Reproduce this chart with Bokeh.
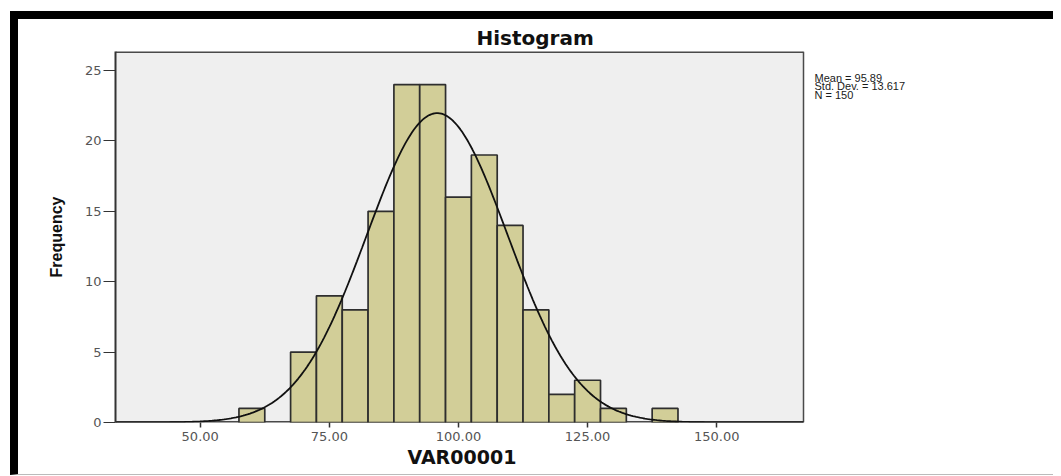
import numpy as np
from bokeh.plotting import figure
from bokeh.models import ColumnDataSource, FixedTicker, Label, Title
from bokeh.layouts import row
from bokeh.embed import file_html
from bokeh.resources import INLINE

# ---- data ----
bin_left = [57.5, 62.5, 67.5, 72.5, 77.5, 82.5, 87.5, 92.5, 97.5, 102.5, 107.5, 112.5, 117.5, 122.5, 127.5, 132.5, 137.5]
bin_right = [62.5, 67.5, 72.5, 77.5, 82.5, 87.5, 92.5, 97.5, 102.5, 107.5, 112.5, 117.5, 122.5, 127.5, 132.5, 137.5, 142.5]
counts = [1, 0, 5, 9, 8, 15, 24, 24, 16, 19, 14, 8, 2, 3, 1, 0, 1]
x_ticks = [50, 75, 100, 125, 150]
x_tick_labels = ["50.00", "75.00", "100.00", "125.00", "150.00"]
y_ticks = [0, 5, 10, 15, 20, 25]
MEAN = 95.89
SD = 13.617
N = 150
stats_lines = ["Mean = 95.89", "Std. Dev. = 13.617", "N = 150"]
X_MIN, X_MAX = 33.6, 166.8
Y_MAX = 26.35

# ---- layout (pixels) ----
W, H = 1035, 455
BORDER_L, BORDER_T, BORDER_B = 97, 32, 52
BOX_W = 688                      # width of the grey plot box
FRAME_W = W - BORDER_L           # frame runs to the right edge (room for the stats text)
FRAME_H = H - BORDER_T - BORDER_B
x_right = X_MIN + (X_MAX - X_MIN) * FRAME_W / BOX_W

# bars (skip empty bins so they draw nothing)
bars = ColumnDataSource(dict(
    left=[l for l, c in zip(bin_left, counts) if c > 0],
    right=[r for r, c in zip(bin_right, counts) if c > 0],
    top=[c for c in counts if c > 0],
))

# fitted normal curve (scaled to counts)
bw = bin_right[0] - bin_left[0]
cx = np.linspace(X_MIN, X_MAX, 400)
cy = N * bw * np.exp(-0.5 * ((cx - MEAN) / SD) ** 2) / (SD * np.sqrt(2 * np.pi))

p = figure(width=W, height=H, x_range=(X_MIN, x_right), y_range=(0, Y_MAX),
           output_backend="svg", toolbar_location=None,
           min_border_left=BORDER_L, min_border_right=0, min_border_top=BORDER_T,
           min_border_bottom=BORDER_B)
p.background_fill_color = "white"
p.border_fill_color = "white"
p.outline_line_color = None
p.xgrid.visible = False
p.ygrid.visible = False

p.title.text = "Histogram"
p.title.align = "left"
p.title.offset = 361
p.title.standoff = 4
p.title.text_font = "DejaVu Sans"
p.title.text_font_style = "bold"
p.title.text_font_size = "20px"
p.title.text_color = "#111111"

# grey plot box
p.quad(left=[X_MIN], right=[X_MAX], bottom=[0], top=[Y_MAX], fill_color="#efefef", line_color=None)
edges = ColumnDataSource(dict(x0=[X_MIN, X_MIN, X_MAX], y0=[0, Y_MAX, 0],
                              x1=[X_MAX, X_MAX, X_MAX], y1=[0, Y_MAX, Y_MAX],
                              w=[3.2, 3.0, 1.5]))
p.segment(x0="x0", y0="y0", x1="x1", y1="y1", line_width="w", line_color="#4a4a4a", source=edges)

p.quad(left="left", right="right", bottom=0, top="top", source=bars,
       fill_color="#d2ce98", line_color="#2e2e2e", line_width=1.7)
p.line(cx, cy, line_color="#111111", line_width=1.8)

tick_font = "DejaVu Sans"
p.xaxis.ticker = FixedTicker(ticks=x_ticks)
p.xaxis.major_label_overrides = {t: s for t, s in zip(x_ticks, x_tick_labels)}
p.xaxis.minor_tick_line_color = None
p.xaxis.major_tick_out = 5
p.xaxis.major_tick_in = 0
p.xaxis.major_tick_line_color = "#333333"
p.xaxis.major_tick_line_width = 1.5
p.xaxis.axis_line_color = None
p.xaxis.major_label_text_font = tick_font
p.xaxis.major_label_text_font_size = "13px"
p.xaxis.major_label_text_color = "#555555"
p.xaxis.major_label_standoff = 4

# x axis title, centred under the grey box
p.add_layout(Title(text="VAR00001", align="left", offset=292, standoff=0,
                   text_font="DejaVu Sans", text_font_style="bold", text_font_size="19px",
                   text_color="#111111"), "below")

p.yaxis.ticker = FixedTicker(ticks=y_ticks)
p.yaxis.minor_tick_line_color = None
p.yaxis.major_tick_out = 12
p.yaxis.major_tick_in = 0
p.yaxis.major_tick_line_color = "#333333"
p.yaxis.major_tick_line_width = 1.2
p.yaxis.axis_line_color = "#333333"
p.yaxis.axis_line_width = 2
p.yaxis.major_label_text_font = tick_font
p.yaxis.major_label_text_font_size = "13px"
p.yaxis.major_label_text_color = "#555555"
p.yaxis.major_label_standoff = 2
p.yaxis.axis_label = "Frequency"
p.yaxis.axis_label_text_font = "Liberation Sans"
p.yaxis.axis_label_text_font_style = "bold"
p.yaxis.axis_label_text_font_size = "16px"
p.yaxis.axis_label_text_color = "#111111"
p.yaxis.axis_label_standoff = 17

# summary statistics to the right of the box (screen units from the frame's bottom-left)
for i, s in enumerate(stats_lines):
    p.add_layout(Label(x=BOX_W + 11, y=FRAME_H - 26 - 8.8 * i, x_units="screen", y_units="screen",
                       text=s, text_font="Liberation Sans", text_font_size="11px",
                       text_align="left", text_baseline="alphabetic", text_color="#1a1a1a"))

layout = row(p, styles={"border-top": "8px solid black", "border-left": "8px solid black",
                        "border-bottom": "1px solid #bbbbbb",
                        "margin-top": "11px", "margin-left": "10px"})

open("out.html", "w").write(file_html(layout, INLINE))
